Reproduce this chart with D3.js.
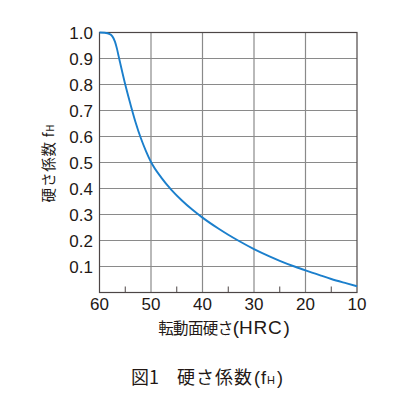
<!DOCTYPE html>
<html>
<head>
<meta charset="utf-8">
<script src="https://cdn.jsdelivr.net/npm/d3@7"></script>
<style>
  body { margin: 0; background: #fff; }
  text { fill: #231815; }
</style>
</head>
<body>
<svg id="chart" width="410" height="396"></svg>
<script>
// hardness HRC -> hardness factor fH
const hrc = [60, 59, 58, 57.5, 57, 56.6, 56.3, 56, 55, 54, 53, 52, 51, 50, 48, 46, 44, 42, 40, 37, 35, 33, 30, 27, 25, 22, 20, 17, 15, 12, 10];
const fH  = [1.0, 0.999, 0.994, 0.985, 0.965, 0.937, 0.91, 0.884, 0.8, 0.725, 0.655, 0.595, 0.545, 0.502, 0.442, 0.394, 0.354, 0.319, 0.288, 0.247, 0.222, 0.199, 0.167, 0.139, 0.122, 0.099, 0.085, 0.065, 0.052, 0.035, 0.024];
const xMajor = [60, 50, 40, 30, 20, 10];
const xMinor = [55, 45, 35, 25, 15];
const yTicks = [0.1, 0.2, 0.3, 0.4, 0.5, 0.6, 0.7, 0.8, 0.9, 1.0];

const svg = d3.select('#chart');
const plotL = 99.5, plotR = 357, plotT = 32.5, plotB = 292.5;

let x = d3.scaleLinear().domain([60, 10]).range([plotL, plotR]);
let y = d3.scaleLinear().domain([0, 1]).range([plotB, plotT]);

const gridColor = '#8a8a8a';
const axisColor = '#4d4646';
const latin = '"Liberation Sans", Arial, sans-serif';
const cjk = '"Noto Sans CJK JP", sans-serif';

// horizontal grid
svg.append('g').selectAll('line').data(yTicks.filter(d => d < 1)).join('line')
    .attr('x1', plotL).attr('x2', plotR)
    .attr('y1', d => y(d)).attr('y2', d => y(d))
    .attr('stroke', gridColor).attr('stroke-width', 1.2);

// vertical grid
svg.append('g').selectAll('line').data(xMajor.filter(d => d != 60 && d != 10)).join('line')
    .attr('x1', d => x(d)).attr('x2', d => x(d))
    .attr('y1', plotT).attr('y2', plotB)
    .attr('stroke', gridColor).attr('stroke-width', 1.2);

// minor ticks on bottom axis
svg.append('g').selectAll('line').data(xMinor).join('line')
    .attr('x1', d => x(d)).attr('x2', d => x(d))
    .attr('y1', plotB - 6).attr('y2', plotB)
    .attr('stroke', axisColor).attr('stroke-width', 1);

// frame
svg.append('rect')
    .attr('x', plotL).attr('y', plotT)
    .attr('width', plotR - plotL).attr('height', plotB - plotT)
    .attr('fill', 'none').attr('stroke', axisColor).attr('stroke-width', 1.2);

// curve
let points = hrc.map((h, i) => [h, fH[i]]);
let line = d3.line()
    .x(d => x(d[0]))
    .y(d => y(d[1]))
    .curve(d3.curveMonotoneX);
svg.append('path')
    .attr('d', line(points))
    .attr('fill', 'none')
    .attr('stroke', '#1b7fcc')
    .attr('stroke-width', 1.9);

// y tick labels
svg.append('g').selectAll('text').data(yTicks).join('text')
    .attr('x', 93).attr('y', d => y(d) + 6.5)
    .attr('text-anchor', 'end')
    .style('font-family', latin).style('font-size', '17px')
    .text(d => d.toFixed(1));

// x tick labels
svg.append('g').selectAll('text').data(xMajor).join('text')
    .attr('x', d => x(d)).attr('y', 310)
    .attr('text-anchor', 'middle')
    .style('font-family', latin).style('font-size', '17px')
    .text(d => d);

// x axis title
let xt = svg.append('text')
    .attr('x', 224).attr('y', 333.5)
    .attr('text-anchor', 'middle')
    .style('font-family', cjk).style('font-size', '15.5px');
xt.append('tspan').style('letter-spacing', '-0.6px').text('転動面硬さ');
xt.append('tspan').style('font-family', latin).style('font-size', '19px').text('(');
xt.append('tspan').style('font-family', latin).style('font-size', '19px')
    .style('letter-spacing', '0.8px').text('HRC');
xt.append('tspan').style('font-family', latin).style('font-size', '19px').attr('dx', 1).text(')');

// y axis title
let yt = svg.append('text')
    .attr('transform', 'translate(53.5,163) rotate(-90)')
    .attr('text-anchor', 'middle')
    .style('font-family', cjk).style('font-size', '14.5px')
    .style('letter-spacing', '0.8px');
yt.append('tspan').text('硬さ係数 f');
yt.append('tspan').style('font-size', '10px').text('H');

// caption
let cap = svg.append('text')
    .attr('y', 383.5)
    .style('font-family', cjk).style('font-size', '18px');
cap.append('tspan').attr('x', 131).text('図1');
cap.append('tspan').attr('x', 177).style('letter-spacing', '1px').text('硬さ係数');
cap.append('tspan').attr('x', 254).style('font-family', latin).text('(');
cap.append('tspan').attr('x', 261).style('font-family', latin).text('f');
cap.append('tspan').attr('x', 267).style('font-family', latin).style('font-size', '11px').text('H');
cap.append('tspan').attr('x', 277).style('font-family', latin).text(')');
</script>
</body>
</html>
